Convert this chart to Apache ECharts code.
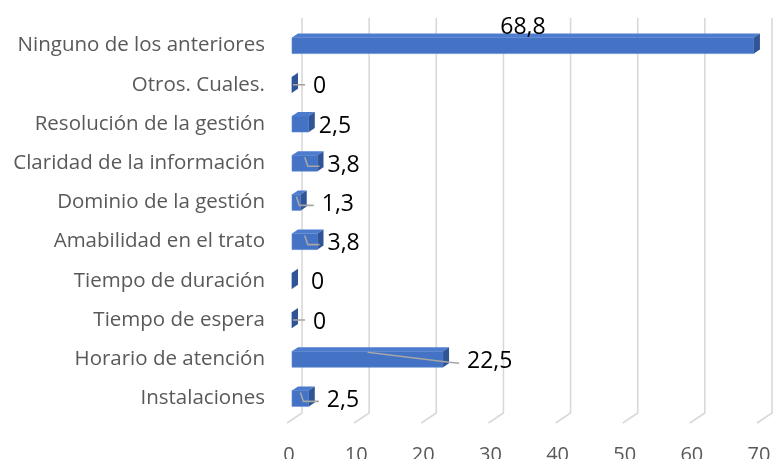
<!DOCTYPE html>
<html>
<head>
<meta charset="utf-8">
<script src="https://cdn.jsdelivr.net/npm/echarts@6/dist/echarts.min.js"></script>
<style>
  html, body { margin: 0; padding: 0; background: #fff; }
  #chart { width: 774px; height: 459px; }
</style>
</head>
<body>
<div id="chart"></div>
<script>
// categories bottom -> top (category axis starts at the bottom)
const categories = [
  "Instalaciones",
  "Horario de atención",
  "Tiempo de espera",
  "Tiempo de duración",
  "Amabilidad en el trato",
  "Dominio de la gestión",
  "Claridad de la información",
  "Resolución de la gestión",
  "Otros. Cuales.",
  "Ninguno de los anteriores"
];
const values = [2.5, 22.5, 0, 0, 3.8, 1.3, 3.8, 2.5, 0, 68.8];
const ticks = [0, 10, 20, 30, 40, 50, 60, 70];

// label layout (px gap from bar end to label, and whether a leader line is drawn)
const labelGap = [18, 24, 21, 19, 10, 21, 10, 10, 21, 0];
const hasLeader = [true, true, true, false, true, true, true, false, true, false];

const FONT = "'Open Sans', sans-serif";
const chart = echarts.init(document.getElementById("chart"));

function fmt(v) {
  return String(v).replace(".", ",");
}

function renderGrid(params, api) {
  const cs = params.coordSys;
  const x = api.coord([api.value(0), 0])[0];
  const top = cs.y - 8;
  const bottom = cs.y + cs.height - 5;
  return {
    type: "polyline",
    shape: {
      points: [[x + 10, top], [x + 10, bottom], [x - 5, bottom + 10]]
    },
    style: { stroke: "#d9d9d9", lineWidth: 1.6, fill: null },
    silent: true
  };
}

function renderBar(params, api) {
  const cs = params.coordSys;
  const v = api.value(0);
  const idx = api.value(1);
  const x0 = api.coord([0, idx])[0];
  const p1 = api.coord([v, idx]);
  const x1 = p1[0];
  const cy = p1[1];
  const t = cy - 8, b = cy + 8, dx = 6, dy = 4;
  const children = [
    {
      type: "rect",
      shape: { x: x0, y: t, width: x1 - x0, height: b - t },
      style: { fill: "#4472c4", stroke: "#5a86d4", lineWidth: 0.6 }
    },
    {
      type: "polygon",
      shape: { points: [[x0, t], [x0 + dx, t - dy], [x1 + dx, t - dy], [x1, t]] },
      style: { fill: "#4d7cce" }
    },
    {
      type: "polygon",
      shape: { points: [[x1, t], [x1 + dx, t - dy], [x1 + dx, b - dy], [x1, b]] },
      style: { fill: "#2f5597" }
    }
  ];
  const above = x1 + 60 > cs.x + cs.width;
  if (above) {
    children.push({
      type: "text",
      style: {
        x: api.coord([v / 2, idx])[0], y: t - 10,
        text: fmt(v), fill: "#000", fontSize: 23, fontFamily: FONT,
        align: "center", verticalAlign: "middle"
      }
    });
  } else {
    const lx = x1 + labelGap[idx];
    if (hasLeader[idx]) {
      const sx = api.coord([v / 2, idx])[0];
      const ex = lx - 8;
      let pts;
      if (v >= 10) {
        pts = [[sx, t + 1], [x1 + 6, cy + 3], [ex, cy + 4]];
      } else if (v > 0) {
        pts = [[sx, t + 2], [sx + 3, cy + 3], [ex, cy + 3]];
      } else {
        pts = [[x0 + 1, cy], [ex, cy]];
      }
      children.push({
        type: "polyline",
        shape: { points: pts },
        style: { stroke: "#a6a6a6", lineWidth: 1.6, fill: null }
      });
    }
    children.push({
      type: "text",
      style: {
        x: lx, y: cy + 2,
        text: fmt(v), fill: "#000", fontSize: 23, fontFamily: FONT,
        align: "left", verticalAlign: "middle"
      }
    });
  }
  return { type: "group", children: children };
}

chart.setOption({
  backgroundColor: "#fff",
  animation: false,
  grid: { left: 292, right: 12, top: 26, bottom: 41, outerBoundsMode: "none" },
  xAxis: {
    type: "value",
    min: 0,
    max: 70,
    interval: 10,
    axisLine: { show: false },
    axisTick: { show: false },
    splitLine: { show: false },
    axisLabel: {
      color: "#595959",
      fontSize: 20,
      fontFamily: FONT,
      margin: 27,
      padding: [0, 6, 0, 0]
    }
  },
  yAxis: {
    type: "category",
    data: categories,
    axisLine: { show: false },
    axisTick: { show: false },
    axisLabel: {
      color: "#595959",
      fontSize: 20.5,
      fontFamily: FONT,
      margin: 27
    }
  },
  series: [
    {
      type: "custom",
      name: "grid",
      renderItem: renderGrid,
      data: ticks.map(t => [t, 0]),
      encode: { x: 0, y: 1 },
      z: 1,
      silent: true
    },
    {
      type: "custom",
      name: "valores",
      renderItem: renderBar,
      data: values.map((v, i) => [v, i]),
      encode: { x: 0, y: 1 },
      z: 2
    }
  ]
});
</script>
</body>
</html>
